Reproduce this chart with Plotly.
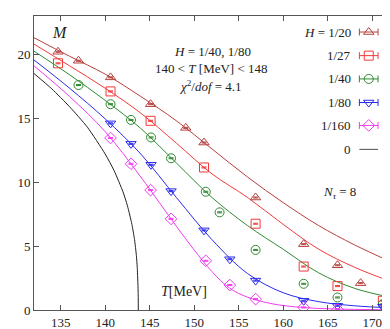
import plotly.graph_objects as go

# ---------------- data ----------------
# measured points  (T [MeV], M)
T_20 = [134.7, 137.0, 140.6, 145.1, 149.05, 151.1, 156.9, 162.3, 166.1, 168.7]
M_20 = [20.2, 19.5, 18.2, 16.1, 14.25, 13.1, 8.8, 5.15, 3.5, 2.1]
T_27 = [134.7, 140.6, 145.1, 151.1, 156.9, 162.3, 166.1, 171.2]
M_27 = [19.3, 17.1, 14.8, 11.15, 6.75, 3.4, 1.87, 0.72]
T_40 = [137.0, 140.6, 142.9, 145.15, 147.4, 151.3, 152.85, 156.9, 162.3, 166.1, 171.2]
M_40 = [17.6, 16.1, 14.87, 13.5, 11.87, 9.25, 7.64, 4.7, 2.05, 0.98, 0.46]
T_80 = [140.6, 142.9, 145.15, 147.4, 151.1, 154.0, 156.9, 162.3, 166.1, 171.2]
M_80 = [14.6, 13.0, 11.36, 9.3, 6.23, 3.97, 2.3, 0.72, 0.33, 0.26]
T_160 = [140.6, 142.9, 145.1, 147.4, 151.3, 154.0, 156.9, 162.3, 166.1]
M_160 = [13.46, 11.44, 9.38, 7.13, 3.85, 1.95, 0.85, 0.2, 0.05]

# fit curves
Tf_20 = [132, 136, 140, 144, 148, 152, 156, 160, 164, 168, 172]
Mf_20 = [21.3, 19.85, 18.45, 16.7, 14.8, 12.6, 10.4, 8.4, 6.6, 5.1, 3.8]
Tf_27 = [132, 136, 140, 144, 148, 152, 156, 160, 164, 168, 172]
Mf_27 = [20.8, 19.1, 17.35, 15.4, 13.05, 10.65, 8.8, 6.7, 4.75, 3.35, 2.25]
Tf_40 = [132, 136, 140, 144, 148, 152, 156, 160, 164, 168, 172]
Mf_40 = [20.25, 18.4, 16.4, 14.2, 11.5, 8.8, 6.6, 4.75, 2.9, 1.7, 1.0]
Tf_80 = [132, 136, 140, 144, 148, 152, 156, 160, 164, 168, 172]
Mf_80 = [19.56, 17.35, 14.95, 12.2, 8.8, 5.5, 2.85, 1.35, 0.65, 0.33, 0.17]
Tf_160 = [132, 136, 140, 144, 148, 150, 152, 154, 156, 158, 160, 164, 168, 172]
Mf_160 = [19.1, 16.7, 13.95, 10.4, 6.55, 4.7, 3.0, 1.7, 1.0, 0.6, 0.35, 0.12, 0.05, 0.02]
Tf_0 = [132, 134, 136, 138, 140, 141, 142, 142.5, 143, 143.3, 143.5, 143.6, 143.7, 143.72]
Mf_0 = [18.5, 17.3, 15.9, 14.3, 12.2, 10.9, 9.24, 8.15, 6.7, 5.49, 4.28, 3.33, 1.5, 0.0]

legend_labels = ["<i>H</i> = 1/20", "1/27", "1/40", "1/80", "1/160", "0"]
x_ticks = [135, 140, 145, 150, 155, 160, 165, 170]
y_ticks = [0, 5, 10, 15, 20]

# ---------------- styles ----------------
colors = ["#b5403f", "#f23a3a", "#2f8a2f", "#2a2aee", "#f03af0", "#222222"]
symbols = ["triangle-up-open", "square-open", "circle-open", "triangle-down-open", "diamond-open"]
FONT = "Liberation Serif"

fig = go.Figure()

points = [(T_20, M_20), (T_27, M_27), (T_40, M_40), (T_80, M_80), (T_160, M_160)]
fits = [(Tf_20, Mf_20), (Tf_27, Mf_27), (Tf_40, Mf_40), (Tf_80, Mf_80), (Tf_160, Mf_160)]

for (tx, my), c in zip(fits, colors[:5]):
    fig.add_trace(go.Scatter(x=tx, y=my, mode="lines", line=dict(color=c, width=1, shape="spline", smoothing=1.0),
                             showlegend=False, hoverinfo="skip"))
fig.add_trace(go.Scatter(x=Tf_0, y=Mf_0, mode="lines", line=dict(color=colors[5], width=1, shape="spline", smoothing=0.6),
                         showlegend=False, hoverinfo="skip"))

for (tx, my), c, s in zip(points, colors[:5], symbols):
    fig.add_trace(go.Scatter(x=tx, y=my, mode="markers",
                             marker=dict(symbol=s, size=9, color=c, line=dict(color=c, width=1)),
                             error_y=dict(type="constant", value=0.04, width=2.5, thickness=1, color=c),
                             showlegend=False))

# ---------------- manual legend (symbols right of labels) ----------------
L, R, Tp, B = 26, 383, 7, 306
W, H = R - L, B - Tp
def px(x):
    return (x - L) / W
def py(y):
    return (B - y) / H

rows = [23.3, 47.3, 71.0, 95.0, 118.3, 142.7]
x_text = px(346)
x_l0, x_l1, x_m = px(352.3), px(371), px(361.7)
shapes = []
annotations = []
for i, (lab, yy) in enumerate(zip(legend_labels, rows)):
    yp = py(yy)
    annotations.append(dict(x=x_text, y=yp, xref="paper", yref="paper", text=lab, showarrow=False,
                            xanchor="right", yanchor="middle", font=dict(family=FONT, size=13, color="#222")))
    c = colors[i] if i < 5 else "#666666"
    shapes.append(dict(type="line", xref="paper", yref="paper", x0=x_l0, x1=x_l1, y0=yp, y1=yp,
                       line=dict(color=c, width=1.2 if i == 5 else 1)))
    if i < 5:
        for xe in (x_l0, x_l1):
            shapes.append(dict(type="line", xref="paper", yref="paper", x0=xe, x1=xe,
                               y0=yp - 3.5 / H, y1=yp + 3.5 / H, line=dict(color=c, width=1)))
        fig.add_trace(go.Scatter(x=[x_m], y=[yp], xaxis="x2", yaxis="y2", mode="markers",
                                 marker=dict(symbol=symbols[i], size=9, color=c, line=dict(color=c, width=1)),
                                 showlegend=False, hoverinfo="skip", cliponaxis=False))

# ---------------- text labels ----------------
def note(x, y, text, size=13, anchor="center"):
    annotations.append(dict(x=px(x), y=py(y), xref="paper", yref="paper", text=text, showarrow=False,
                            xanchor=anchor, yanchor="middle", font=dict(family=FONT, size=size, color="#222")))

note(52, 24, "<i>M</i>", size=16)
note(205, 43, "<i>H</i> = 1/40, 1/80")
note(204, 60, "140 < <i>T</i> [MeV] < 148")
note(203, 78, "<i>χ</i><sup>2</sup>/<i>dof</i> = 4.1")
note(332, 186, "<i>N</i><sub><i>τ</i></sub> = 8")
note(176, 287, "<i>T</i>[MeV]", size=14)

axis_common = dict(showline=True, mirror="ticks", linecolor="#555", linewidth=1, ticks="inside", ticklen=5,
                   tickcolor="#555", showgrid=False, zeroline=False,
                   tickfont=dict(family=FONT, size=13, color="#222"))

fig.update_layout(
    width=390, height=329,
    margin=dict(l=L, r=390 - R, t=Tp, b=329 - B),
    paper_bgcolor="white", plot_bgcolor="white",
    xaxis=dict(range=[132, 172], tickvals=x_ticks, **axis_common),
    yaxis=dict(range=[0, 23], tickvals=y_ticks, **axis_common),
    xaxis2=dict(overlaying="x", range=[0, 1], visible=False),
    yaxis2=dict(overlaying="y", range=[0, 1], visible=False),
    shapes=shapes, annotations=annotations, showlegend=False,
)

fig.write_html("out.html")
